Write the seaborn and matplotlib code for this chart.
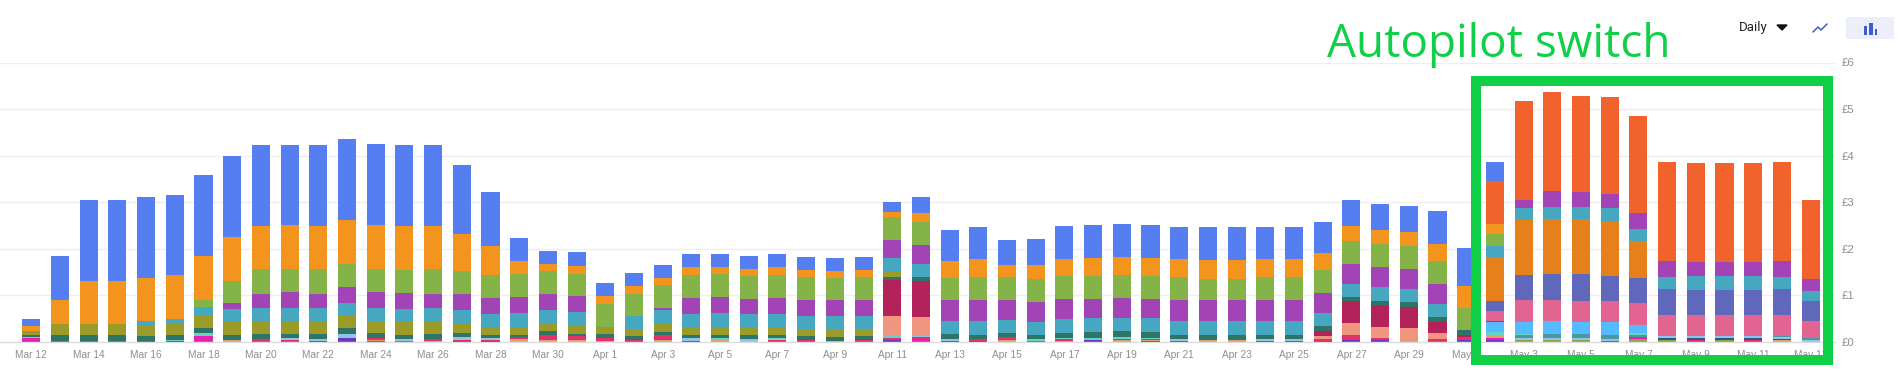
import matplotlib
matplotlib.use("Agg")
import matplotlib.pyplot as plt
from matplotlib.patches import Rectangle, FancyBboxPatch, Polygon
import pandas as pd
import seaborn as sns

# values are pence per day
blue = [16, 94, 174, 174, 174, 172, 174, 174, 174, 172,
        174, 174, 172, 174, 174, 148, 116, 49, 28, 30,
        28, 28, 28, 28, 28, 28, 28, 28, 28, 28,
        21, 34, 67, 69, 52, 56, 71, 71, 71, 71,
        69, 71, 71, 69, 69, 67, 56, 56, 56, 71,
        82, 41, 0, 0, 0, 0, 0, 0, 0, 0,
        0, 0, 0]
fire = [0] * 51 + [92, 212, 213, 205, 207, 209, 212, 213, 213, 213, 212, 170]
orange = [10, 52, 93, 93, 92, 94, 94, 93, 93, 95,
          93, 94, 95, 95, 93, 80, 63, 29, 16, 16,
          16, 16, 16, 16, 16, 16, 16, 16, 16, 16,
          11, 20, 37, 39, 26, 31, 37, 39, 39, 39,
          39, 39, 39, 39, 39, 37, 31, 30, 31, 37,
          46, 22, 0, 0, 0, 0, 0, 0, 0, 0,
          0, 0, 0]
green = [0, 0, 0, 0, 0, 0, 16, 49, 52, 49,
         52, 50, 49, 49, 52, 49, 49, 49, 49, 49,
         49, 49, 49, 49, 49, 49, 49, 49, 47, 49,
         49, 49, 46, 49, 49, 49, 49, 49, 49, 49,
         49, 46, 46, 49, 49, 49, 49, 49, 49, 49,
         49, 24, 0, 0, 0, 0, 0, 0, 0, 0,
         0, 0, 0]
purple = [0, 0, 0, 0, 0, 0, 0, 12, 31, 34,
          31, 34, 34, 34, 31, 34, 34, 34, 34, 34,
          0, 0, 4, 34, 34, 32, 34, 34, 34, 34,
          39, 40, 45, 45, 43, 42, 44, 42, 42, 42,
          45, 45, 45, 45, 45, 42, 43, 45, 43, 43,
          0, 0, 17, 34, 34, 31, 34, 34, 31, 31,
          31, 34, 25]
teal = [0, 0, 0, 0, 9, 9, 19, 29, 29, 29,
        29, 29, 29, 29, 29, 29, 29, 29, 29, 29,
        0, 28, 29, 29, 29, 28, 29, 29, 29, 29,
        29, 29, 29, 29, 29, 29, 29, 29, 29, 29,
        29, 29, 29, 29, 29, 29, 29, 29, 29, 29,
        0, 25, 26, 26, 26, 28, 26, 26, 29, 29,
        29, 26, 21]
olive = [9, 24, 24, 24, 24, 26, 26, 26, 26, 26,
         26, 26, 26, 26, 26, 21, 17, 17, 17, 17,
         15, 14, 18, 17, 17, 17, 17, 15, 17, 15,
         11] + [0] * 32
dark_orange = [0] * 51 + [94, 119, 118, 118, 118, 79, 0, 0, 0, 0, 0, 0]
indigo = [0] * 51 + [21, 53, 56, 56, 54, 54, 55, 53, 53, 53, 55, 44]
pink = [0] * 51 + [21, 47, 45, 45, 45, 47, 47, 47, 47, 47, 47, 36]
dark_green = [4, 12, 12, 12, 12, 10, 11, 12, 12, 10,
              12, 12, 10, 10, 12, 9, 6, 6, 9, 6,
              9, 9, 8, 6, 8, 9, 6, 8, 8, 8,
              6, 7, 11, 10, 9, 9, 11, 13, 13, 13,
              10, 12, 12, 10, 10, 11, 9, 9, 9, 11,
              11, 4, 0, 0, 0, 0, 0, 0, 0, 0,
              0, 0, 0]
crimson = [0] * 30 + [79, 79] + [0] * 13 + [10, 46, 46, 46, 23, 4] + [0] * 12
salmon = [0] * 30 + [40, 40] + [0] * 13 + [6, 26, 24, 26, 13] + [0] * 13
sky = [0] * 51 + [21, 26, 28, 26, 26, 17, 0, 0, 0, 0, 0, 0]
mint = [2, 0, 0, 0, 0, 2, 6, 0, 0, 0,
        0, 0, 0, 0, 0, 0, 0, 0, 0, 0,
        0, 0, 0, 0, 4, 2, 2, 0, 2, 0,
        7, 0, 0, 0, 0, 4, 3, 3, 4, 3,
        0, 0, 0, 0, 0, 0, 0, 0, 0, 0,
        0, 7, 2, 0, 0, 0, 3, 0, 0, 0,
        0, 0, 0]
steel = [0] * 52 + [7, 9, 10, 9, 6, 0, 0, 0, 0, 2, 4]
light_blue = [0, 0, 0, 0, 0, 0, 0, 0, 0, 4,
              4, 9, 0, 4, 0, 6, 4, 0, 0, 0,
              0, 0, 0, 6, 0, 4, 3, 0, 0, 0,
              0, 3, 4, 0, 0, 0, 0, 0, 0, 0,
              4, 0, 0, 4, 4, 0, 0, 0, 0, 0,
              0, 0, 4, 4, 4, 4, 0, 4, 4, 4,
              4, 3, 5]
navy = [0] * 57 + [4, 4, 4, 4, 3, 0]
rose = [0, 2, 2, 2, 0, 0, 0, 0, 6, 4,
        0, 0, 4, 2, 4, 2, 2, 4, 10, 8,
        6, 4, 10, 0, 0, 0, 4, 4, 0, 4,
        4, 4, 0, 4, 6, 2, 4, 0, 2, 2,
        0, 0, 0, 0, 0, 5, 11, 5, 0, 6,
        6, 0, 0, 0, 0, 0, 0, 0, 4, 0,
        4, 0, 0]
tan = [0, 0, 0, 0, 0, 0, 0, 4, 0, 0,
       0, 0, 3, 0, 2, 0, 0, 6, 4, 4,
       3, 0, 4, 0, 4, 0, 0, 0, 0, 0,
       0, 0, 0, 0, 4, 0, 2, 2, 4, 2,
       0, 4, 4, 0, 0, 0, 0, 0, 4, 0,
       0, 6, 0, 0, 0, 0, 0, 0, 0, 0,
       0, 4, 0]
magenta = [9, 0, 0, 0, 0, 0, 13, 0, 0, 0,
           0, 0, 0, 0, 0, 0, 0, 0, 0, 0,
           0, 0, 0, 0, 0, 0, 0, 0, 0, 0,
           0, 6, 0, 0, 0, 0, 0, 0, 0, 0,
           0, 0, 0, 0, 0, 0, 0, 0, 0, 0,
           0, 4, 0, 0, 0, 0, 3, 0, 0, 0,
           0, 0, 0]
violet = [0, 0, 0, 0, 0, 2, 0, 0, 0, 0,
          2, 8, 2, 0, 0, 2, 2, 0, 0, 0,
          0, 0, 0, 3, 0, 0, 0, 0, 0, 0,
          4, 0, 2, 2, 0, 0, 0, 4, 0, 2,
          2, 0, 0, 2, 2, 2, 4, 4, 0, 0,
          4, 4, 0, 0, 0, 3, 0, 0, 0, 0,
          0, 0, 0]
moss = [0] * 52 + [4, 4, 4, 0, 7, 4, 0, 4, 0, 0, 0]

# top of the stack first
series = {
    "blue": (blue, "#557ff0"),
    "fire": (fire, "#f2622c"),
    "orange": (orange, "#f3941f"),
    "green": (green, "#84b347"),
    "purple": (purple, "#a244b5"),
    "teal": (teal, "#45a8c0"),
    "olive": (olive, "#9b9b2a"),
    "dark_orange": (dark_orange, "#e6801a"),
    "indigo": (indigo, "#6068bb"),
    "pink": (pink, "#e26591"),
    "dark_green": (dark_green, "#2e7568"),
    "crimson": (crimson, "#b32259"),
    "salmon": (salmon, "#ef9580"),
    "sky": (sky, "#55baff"),
    "mint": (mint, "#62d4c8"),
    "steel": (steel, "#4a98a0"),
    "light_blue": (light_blue, "#90c4ec"),
    "navy": (navy, "#2f5590"),
    "rose": (rose, "#e2306a"),
    "tan": (tan, "#dba26e"),
    "magenta": (magenta, "#e81fb4"),
    "violet": (violet, "#6a36c2"),
    "moss": (moss, "#8fa33f"),
}

dates = pd.date_range("2021-03-12", periods=63)
tick_labels = [f"{d.strftime('%b')} {d.day}" for d in dates]
y_ticks = [0, 1, 2, 3, 4, 5, 6]

GREEN = "#10d048"
GREY = "#8f8f8f"
W, H = 1901, 385

rows = []
for name, (vals, _) in series.items():
    for day, v in enumerate(vals):
        rows.append({"day": day, "series": name, "cost": v / 100})
df = pd.DataFrame(rows)

sns.set_theme(style="white")
plt.rcParams["font.family"] = ["Liberation Sans", "DejaVu Sans"]

fig = plt.figure(figsize=(W / 100, H / 100), dpi=100)
ax = fig.add_axes([0, (H - 342) / H, 1835 / W, (342 - 62.5) / H])

sns.histplot(data=df, x="day", hue="series", weights="cost", multiple="stack",
             discrete=True, shrink=0.63, hue_order=list(series),
             palette={k: c for k, (_, c) in series.items()},
             alpha=1, linewidth=0, legend=False, ax=ax)

ax.set_xlim(-1.09, 62.85)
ax.set_ylim(0, 6)
ax.set_xlabel("")
ax.set_ylabel("")
ax.set_xticks(range(0, 63, 2))
ax.set_xticklabels(tick_labels[::2])
ax.set_yticks(y_ticks)
ax.set_yticklabels([f"£{v}" for v in y_ticks])
ax.yaxis.tick_right()
ax.tick_params(axis="x", length=0, pad=5.5, labelsize=7.3, labelcolor=GREY)
ax.tick_params(axis="y", length=0, pad=5, labelsize=8.2, labelcolor=GREY)
ax.grid(axis="y", color="#eeeeee", linewidth=1)
ax.set_axisbelow(True)
sns.despine(ax=ax, left=True, right=True, top=True)
ax.spines["bottom"].set_color("#dddddd")
ax.spines["bottom"].set_linewidth(1)

# overlay in pixel coordinates for the annotation and the page controls
over = fig.add_axes([0, 0, 1, 1], zorder=5)
over.set_xlim(0, W)
over.set_ylim(H, 0)
over.axis("off")

over.add_patch(Rectangle((1476, 81), 352, 279, fill=False, edgecolor=GREEN,
                         linewidth=7.2, joinstyle="miter"))
over.text(1327, 57, "Autopilot switch", color=GREEN, fontsize=33,
          family=["Open Sans", "DejaVu Sans"], va="baseline", ha="left")

over.text(1739, 28, "Daily", color="#222222", fontsize=9.5,
          family=["Roboto", "DejaVu Sans"], va="center", ha="left")
over.add_patch(Polygon([(1777, 25), (1787, 25), (1782, 30)], color="#111111"))
over.plot([1813, 1818, 1821, 1827], [32, 27, 30, 24], color="#3f5bd0", linewidth=1.1)
over.add_patch(FancyBboxPatch((1846, 17), 48, 22, boxstyle="round,pad=0,rounding_size=2",
                              facecolor="#eceefa", edgecolor="none"))
for x0, x1, top in [(1864, 1867, 26), (1869, 1873, 23), (1875, 1877, 29)]:
    over.add_patch(Rectangle((x0, top), x1 - x0, 35 - top, color="#3f5bd0", linewidth=0))

fig.savefig("out.png", dpi=100, facecolor="white")
